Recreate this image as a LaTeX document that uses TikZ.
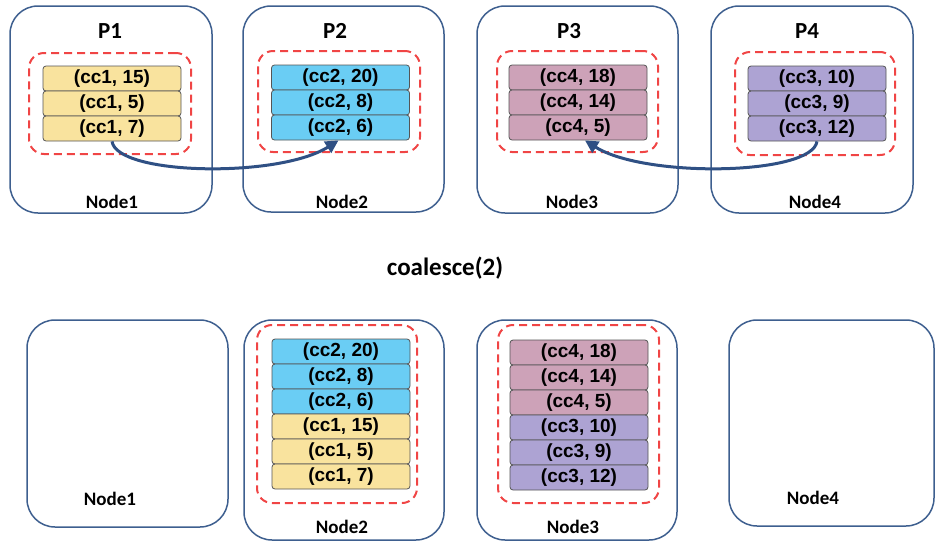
\documentclass[tikz,border=0pt]{standalone}
\usepackage{fontspec}
\setmainfont{Liberation Sans}
\newfontfamily\calib{Carlito}
\usetikzlibrary{arrows.meta}
\definecolor{boxblue}{HTML}{3E5F8F}
\definecolor{arrowblue}{HTML}{2F5084}
\definecolor{dashred}{HTML}{F04545}
\definecolor{cyel}{HTML}{F9E39E}
\definecolor{cblue}{HTML}{6ACDF4}
\definecolor{cpink}{HTML}{CDA2B8}
\definecolor{cpurp}{HTML}{ADA3D3}
\definecolor{itemedge}{HTML}{555555}
\tikzset{
  outerbox/.style={draw=boxblue, line width=1.5pt, rounded corners=28pt, inner sep=0pt},
  group/.style={draw=dashred, line width=2pt, dash pattern=on 8pt off 5pt, rounded corners=15pt, inner sep=0pt},
  item/.style={draw=itemedge, line width=0.8pt, rounded corners=3pt, minimum width=138pt, minimum height=25pt, inner sep=0pt, font=\fontsize{19}{21}\selectfont\bfseries},
  plabel/.style={font=\calib\fontsize{23}{25}\selectfont\bfseries, inner sep=0pt},
  nlabel/.style={font=\calib\fontsize{19}{21}\selectfont\bfseries, inner sep=0pt},
  flow/.style={draw=arrowblue, line width=3pt, -{Triangle[length=13pt,width=13pt]}}
}
\begin{document}
\begin{tikzpicture}[x=1pt,y=-1pt]
\useasboundingbox (0,0) rectangle (951,555);
% ---------- top row outer boxes ----------
\node[outerbox, minimum width=202pt, minimum height=207pt] (T1) at (111,109.5) {};
\node[outerbox, minimum width=201pt, minimum height=206pt] (T2) at (343.5,109) {};
\node[outerbox, minimum width=201pt, minimum height=207pt] (T3) at (577.5,109.5) {};
\node[outerbox, minimum width=202pt, minimum height=207pt] (T4) at (812,109.5) {};
% labels
\node[plabel] (P1) at (110,31) {P1};
\node[plabel] (P2) at (335,31) {P2};
\node[plabel] (P3) at (569,31) {P3};
\node[plabel] (P4) at (807,31) {P4};
\node[nlabel] (TN1) at (112,202) {Node1};
\node[nlabel] (TN2) at (342,202) {Node2};
\node[nlabel] (TN3) at (572,202) {Node3};
\node[nlabel] (TN4) at (815,202) {Node4};
% dashed groups
\node[group, minimum width=162pt, minimum height=101pt] (G1) at (110,103.5) {};
\node[group, minimum width=162pt, minimum height=101pt] (G2) at (339,101.5) {};
\node[group, minimum width=161pt, minimum height=101pt] (G3) at (577.5,101.5) {};
\node[group, minimum width=160pt, minimum height=103pt] (G4) at (815,103.5) {};
% items P1
\node[item, fill=cyel] (a1) at (112,78.5) {(cc1, 15)};
\node[item, fill=cyel] (a2) at (112,103.5) {(cc1, 5)};
\node[item, fill=cyel] (a3) at (112,128.5) {(cc1, 7)};
% items P2
\node[item, fill=cblue] (b1) at (340.5,77.5) {(cc2, 20)};
\node[item, fill=cblue] (b2) at (340.5,102.5) {(cc2, 8)};
\node[item, fill=cblue] (b3) at (340.5,127.5) {(cc2, 6)};
% items P3
\node[item, fill=cpink] (c1) at (578,77.5) {(cc4, 18)};
\node[item, fill=cpink] (c2) at (578,102.5) {(cc4, 14)};
\node[item, fill=cpink] (c3) at (578,127.5) {(cc4, 5)};
% items P4
\node[item, fill=cpurp] (d1) at (817,78.5) {(cc3, 10)};
\node[item, fill=cpurp] (d2) at (817,103.5) {(cc3, 9)};
\node[item, fill=cpurp] (d3) at (817,128.5) {(cc3, 12)};
% arrows
\draw[flow] (a3.south) .. controls +(5,34) and +(-60,38) .. ([xshift=-2pt]b3.south);
\draw[flow] (d3.south) .. controls +(-5,34) and +(60,38) .. ([xshift=7pt]c3.south);
% ---------- middle label ----------
\node[font=\calib\fontsize{25}{27}\selectfont\bfseries, inner sep=0pt] (co) at (445,268) {coalesce(2)};
% ---------- bottom row ----------
\node[outerbox, minimum width=201pt, minimum height=207pt] (B1) at (127.5,423.5) {};
\node[outerbox, minimum width=200pt, minimum height=220pt] (B2) at (344,430) {};
\node[outerbox, minimum width=200pt, minimum height=220pt] (B3) at (577,430) {};
\node[outerbox, minimum width=205pt, minimum height=206pt] (B4) at (831.5,423) {};
\node[nlabel] (BN1) at (110,499) {Node1};
\node[nlabel] (BN2) at (342,527) {Node2};
\node[nlabel] (BN3) at (573,527) {Node3};
\node[nlabel] (BN4) at (813,498) {Node4};
\node[group, minimum width=160pt, minimum height=178pt] (H2) at (337,414) {};
\node[group, minimum width=161pt, minimum height=178pt] (H3) at (578.5,414) {};
% bottom node2 items
\node[item, fill=cblue] (e1) at (341,351.5) {(cc2, 20)};
\node[item, fill=cblue] (e2) at (341,376.5) {(cc2, 8)};
\node[item, fill=cblue] (e3) at (341,401.5) {(cc2, 6)};
\node[item, fill=cyel] (e4) at (341,426.5) {(cc1, 15)};
\node[item, fill=cyel] (e5) at (341,451.5) {(cc1, 5)};
\node[item, fill=cyel] (e6) at (341,476.5) {(cc1, 7)};
% bottom node3 items
\node[item, fill=cpink] (f1) at (579,352.5) {(cc4, 18)};
\node[item, fill=cpink] (f2) at (579,377.5) {(cc4, 14)};
\node[item, fill=cpink] (f3) at (579,402.5) {(cc4, 5)};
\node[item, fill=cpurp] (f4) at (579,427.5) {(cc3, 10)};
\node[item, fill=cpurp] (f5) at (579,452.5) {(cc3, 9)};
\node[item, fill=cpurp] (f6) at (579,477.5) {(cc3, 12)};
\end{tikzpicture}
\end{document}
